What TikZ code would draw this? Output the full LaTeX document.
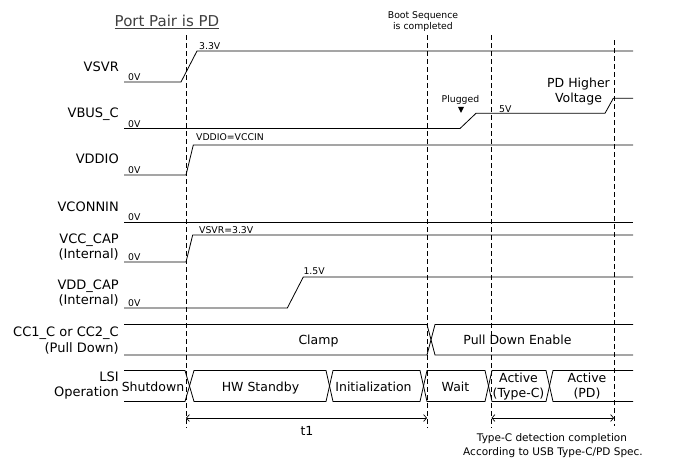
\documentclass[tikz,border=0pt]{standalone}
\usepackage{fontspec}
\setmainfont{DejaVu Sans}
\usetikzlibrary{arrows.meta}
\begin{document}
\begin{tikzpicture}[x=1pt,y=-1pt,
  sig/.style={line width=0.8pt,black,line join=miter},
  guide/.style={line width=0.8pt,dash pattern=on 5pt off 3pt},
  dimline/.style={line width=0.7pt,{Straight Barb[length=3pt,width=7pt]}-{Straight Barb[length=3pt,width=7pt]}},
  signame/.style={font=\fontsize{13}{15}\selectfont,anchor=base east,inner sep=0pt},
  smalll/.style={font=\fontsize{9.3}{11}\selectfont,anchor=base west,inner sep=0pt},
  smallc/.style={font=\fontsize{9.3}{11}\selectfont,anchor=base,inner sep=0pt},
  stlbl/.style={font=\fontsize{12.5}{14}\selectfont,anchor=base,inner sep=0pt},
  notelbl/.style={font=\fontsize{10.5}{12}\selectfont,anchor=base,inner sep=0pt},
  titlest/.style={font=\fontsize{15}{17}\selectfont,anchor=base,inner sep=0pt,text=black!75}
]
\useasboundingbox (0,0) rectangle (676,461);

% title and notes
\node[titlest] (title) at (167,26.5) {\underline{Port Pair is PD}};
\node[smallc] (boot1) at (423,18.5) {Boot Sequence};
\node[smallc] (boot2) at (423,29.5) {is completed};

% signal names
\node[signame] (nVSVR) at (119,71.7) {VSVR};
\node[signame] (nVBUS) at (119,117) {VBUS\_C};
\node[signame] (nVDDIO) at (119,163.3) {VDDIO};
\node[signame] (nVCON) at (119,211.6) {VCONNIN};
\node[signame] (nVCC) at (119,243.3) {VCC\_CAP};
\node[signame] (nVCCi) at (119,258.5) {(Internal)};
\node[signame] (nVDD) at (119,289.5) {VDD\_CAP};
\node[signame] (nVDDi) at (119,304.5) {(Internal)};
\node[signame] (nCC) at (119,336.3) {CC1\_C or CC2\_C};
\node[signame] (nCCp) at (119,352.5) {(Pull Down)};
\node[signame] (nLSI) at (119,381.7) {LSI};
\node[signame] (nLSIo) at (119,396.7) {Operation};

% dashed guide lines
\coordinate (d1t) at (186,35);  \coordinate (d1b) at (186,428);
\coordinate (d2t) at (427,35);  \coordinate (d2b) at (427,428);
\coordinate (d3t) at (491.5,35);\coordinate (d3b) at (491.5,428);
\coordinate (d4t) at (614,40);  \coordinate (d4b) at (614,426);
\draw[guide] (d1t) -- (d1b);
\draw[guide] (d2t) -- (d2b);
\draw[guide] (d3t) -- (d3b);
\draw[guide] (d4t) -- (d4b);

% VSVR
\draw[sig] (124,82) -- (181,82) -- (197,51) -- (633,51);
\node[smalll] (vsvr0) at (128,80.6) {0V};
\node[smalll] (vsvr33) at (199,49) {3.3V};

% VBUS_C
\draw[sig] (124,128.5) -- (460,128.5) -- (476,113.3) -- (605,113.3) -- (613.3,98.3) -- (633,98.3);
\node[smalll] (vbus0) at (128,127) {0V};
\node[smalll] (vbus5) at (499,112.5) {5V};
\node[smallc] (plug) at (460.5,102.5) {Plugged};
\fill (458,106.8) -- (464,106.8) -- (461,112.8) -- cycle;
\node[stlbl] (pdh1) at (578.5,87.4) {PD Higher};
\node[stlbl] (pdh2) at (578.5,102.4) {Voltage};

% VDDIO
\draw[sig] (124,175) -- (186,175) -- (193.3,145) -- (633,145);
\node[smalll] (vddio0) at (128,173.6) {0V};
\node[smalll] (vddioeq) at (196,140) {VDDIO=VCCIN};

% VCONNIN
\draw[sig] (124,222) -- (633,222);
\node[smalll] (vcon0) at (128,220.6) {0V};

% VCC_CAP
\draw[sig] (124,262) -- (186,262) -- (192.7,235) -- (633,235);
\node[smalll] (vcc0) at (128,260.6) {0V};
\node[smalll] (vcceq) at (199,233) {VSVR=3.3V};

% VDD_CAP
\draw[sig] (124,308) -- (287.3,308) -- (303.3,277) -- (633,277);
\node[smalll] (vdd0) at (128,306.6) {0V};
\node[smalll] (vdd15) at (303.3,274.8) {1.5V};

% CC bus
\draw[sig] (124,324.5) -- (427,324.5) -- (431,339.75) -- (427,355) -- (124,355);
\draw[sig] (633,324.5) -- (435,324.5) -- (431,339.75) -- (435,355) -- (633,355);
\node[stlbl] (clamp) at (318.5,344) {Clamp};
\node[stlbl] (pde) at (517.5,344.5) {Pull Down Enable};

% LSI bus
\draw[sig] (124,370.5) -- (185,370.5) -- (189.5,386) -- (185,401.5) -- (124,401.5);
\draw[sig] (189.5,386) -- (194,370.5) -- (326,370.5) -- (329.5,386) -- (326,401.5) -- (194,401.5) -- cycle;
\draw[sig] (329.5,386) -- (333,370.5) -- (420,370.5) -- (423.5,386) -- (420,401.5) -- (333,401.5) -- cycle;
\draw[sig] (423.5,386) -- (427,370.5) -- (485,370.5) -- (488.5,386) -- (485,401.5) -- (427,401.5) -- cycle;
\draw[sig] (488.5,386) -- (492,370.5) -- (546,370.5) -- (549.5,386) -- (546,401.5) -- (492,401.5) -- cycle;
\draw[sig] (633,370.5) -- (553,370.5) -- (549.5,386) -- (553,401.5) -- (633,401.5);
\node[stlbl] (shut) at (153,391) {Shutdown};
\node[stlbl] (hws) at (260.5,391) {HW Standby};
\node[stlbl] (init) at (373.5,391) {Initialization};
\node[stlbl] (wait) at (455.5,391) {Wait};
\node[stlbl] (act1a) at (518.5,382) {Active};
\node[stlbl] (act1b) at (518.5,397) {(Type-C)};
\node[stlbl] (act2a) at (587,382) {Active};
\node[stlbl] (act2b) at (587,397) {(PD)};

% dimensions
\coordinate (t1l) at (186,418);
\coordinate (t1r) at (427,418);
\coordinate (t2l) at (491.5,418);
\coordinate (t2r) at (614,418);
\draw[dimline] (t1l) -- (t1r);
\draw[dimline] (t2l) -- (t2r);
\node[stlbl] (t1) at (307,435) {t1};
\node[notelbl] (tc1) at (552,441.5) {Type-C detection completion};
\node[notelbl] (tc2) at (553,455) {According to USB Type-C/PD Spec.};
\end{tikzpicture}
\end{document}
